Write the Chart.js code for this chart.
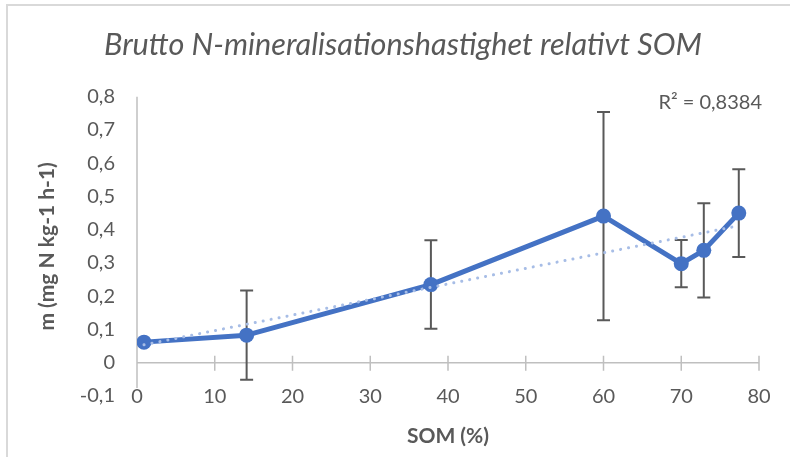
<!DOCTYPE html>
<html>
<head>
<meta charset="utf-8">
<script src="https://cdn.jsdelivr.net/npm/chart.js@4.4.0/dist/chart.umd.min.js"></script>
<style>
  html, body { margin: 0; padding: 0; background: #fff; }
  #wrap { width: 790px; height: 457px; position: relative; }
</style>
</head>
<body>
<div id="wrap"><canvas id="c" width="790" height="457"></canvas></div>
<script>
// ---- data ----
const somValues   = [0.9, 14.1, 37.8, 60.0, 70.0, 72.9, 77.4];
const rateValues  = [0.062, 0.083, 0.235, 0.441, 0.298, 0.338, 0.450];
const errorValues = [0.000, 0.134, 0.133, 0.313, 0.071, 0.142, 0.132];
const trendX      = [0.9, 77.4];
const trendY      = [0.054, 0.412];
const rSquaredLabel = 'R² = 0,8384';
const chartTitle  = 'Brutto N-mineralisationshastighet relativt SOM';
const xAxisTitle  = 'SOM (%)';
const yAxisTitle  = 'm (mg N kg-1 h-1)';

const mainData  = somValues.map((x, i) => ({ x: x, y: rateValues[i] }));
const trendData = trendX.map((x, i) => ({ x: x, y: trendY[i] }));

const GRAY = '#595959';
const AXIS = '#BFBFBF';
const FONT = 'Lato, Carlito, Calibri, "Open Sans", sans-serif';

const decorPlugin = {
  id: 'decor',
  beforeDraw(chart) {
    const ctx = chart.ctx;
    ctx.save();
    ctx.strokeStyle = '#D9D9D9';
    ctx.lineWidth = 2;
    ctx.beginPath();
    ctx.moveTo(7, 457); ctx.lineTo(7, 5); ctx.lineTo(790, 5);
    ctx.stroke();
    ctx.restore();
  },
  beforeDatasetsDraw(chart) {
    const ctx = chart.ctx, xs = chart.scales.x, ys = chart.scales.y;
    const ca = chart.chartArea;
    ctx.save();
    // vertical axis line
    ctx.strokeStyle = AXIS;
    ctx.lineWidth = 1.5;
    ctx.beginPath();
    ctx.moveTo(ca.left, ca.top);
    ctx.lineTo(ca.left, ca.bottom - 8);
    ctx.stroke();
    // horizontal axis line at y = 0 with cross ticks
    const y0 = ys.getPixelForValue(0);
    ctx.beginPath();
    ctx.moveTo(ca.left, y0); ctx.lineTo(ca.right, y0);
    xs.ticks.forEach(t => {
      if (t.value === 0) return;
      const px = xs.getPixelForValue(t.value);
      ctx.moveTo(px, y0 - 7); ctx.lineTo(px, y0 + 8);
    });
    ctx.stroke();
    // error bars
    ctx.strokeStyle = GRAY;
    ctx.lineWidth = 2;
    ctx.beginPath();
    somValues.forEach((x, i) => {
      const e = errorValues[i];
      if (!e) return;
      const px = xs.getPixelForValue(x);
      const top = ys.getPixelForValue(rateValues[i] + e);
      const bot = ys.getPixelForValue(rateValues[i] - e);
      ctx.moveTo(px, top); ctx.lineTo(px, bot);
      ctx.moveTo(px - 6.5, top); ctx.lineTo(px + 6.5, top);
      ctx.moveTo(px - 6.5, bot); ctx.lineTo(px + 6.5, bot);
    });
    ctx.stroke();
    ctx.restore();
  },
  afterDraw(chart) {
    const ctx = chart.ctx, ca = chart.chartArea;
    ctx.save();
    ctx.fillStyle = GRAY;
    ctx.font = '20px ' + FONT;
    ctx.textAlign = 'right';
    ctx.textBaseline = 'middle';
    ctx.fillText(rSquaredLabel, ca.right + 3, ca.top + 6);
    ctx.restore();
  }
};

new Chart(document.getElementById('c'), {
  type: 'scatter',
  data: {
    datasets: [
      {
        label: 'trend',
        data: trendData,
        showLine: true,
        borderColor: '#A7BDE6',
        borderWidth: 3,
        borderDash: [0.1, 8],
        borderCapStyle: 'round',
        pointRadius: 0,
        order: 0
      },
      {
        label: 'm',
        data: mainData,
        showLine: true,
        borderColor: '#4472C4',
        backgroundColor: '#4472C4',
        borderWidth: 5,
        borderJoinStyle: 'round',
        pointRadius: 7.5,
        pointBorderWidth: 0,
        pointBackgroundColor: '#4472C4',
        order: 1
      }
    ]
  },
  options: {
    responsive: false,
    animation: false,
    layout: { padding: { left: 47, right: 31, top: 0, bottom: 0 } },
    plugins: {
      legend: { display: false },
      tooltip: { enabled: false },
      title: {
        display: true,
        text: chartTitle,
        color: GRAY,
        font: { family: FONT, size: 30.6, style: 'italic', weight: 'normal', lineHeight: 1.2 },
        padding: { top: 27, bottom: 33 }
      }
    },
    scales: {
      x: {
        type: 'linear',
        min: 0, max: 80,
        grid: { display: false, drawTicks: false },
        border: { display: false },
        ticks: { stepSize: 10, color: GRAY, font: { family: FONT, size: 20 }, padding: -11, maxRotation: 0 },
        title: { display: true, text: xAxisTitle, color: GRAY, font: { family: FONT, size: 21, weight: 'bold', lineHeight: 1.2 }, padding: { top: 0, bottom: 8 } },
        afterFit(s) { s.height = 61; s._computeLabelArea = () => undefined; }
      },
      y: {
        type: 'linear',
        min: -0.1, max: 0.8,
        grid: { display: false, drawTicks: false },
        border: { display: false },
        ticks: {
          stepSize: 0.1, color: GRAY, font: { family: FONT, size: 20 }, padding: 22,
          callback(v) { const r = Math.round(v * 10) / 10; return r === 0 ? '0' : r.toFixed(1).replace('.', ','); }
        },
        title: { display: true, text: yAxisTitle, color: GRAY, font: { family: FONT, size: 21, weight: 'bold', lineHeight: 1.2 }, padding: { top: -12, bottom: 0 } },
        afterFit(s) { s.width = 90; }
      }
    }
  },
  plugins: [decorPlugin]
});
</script>
</body>
</html>
